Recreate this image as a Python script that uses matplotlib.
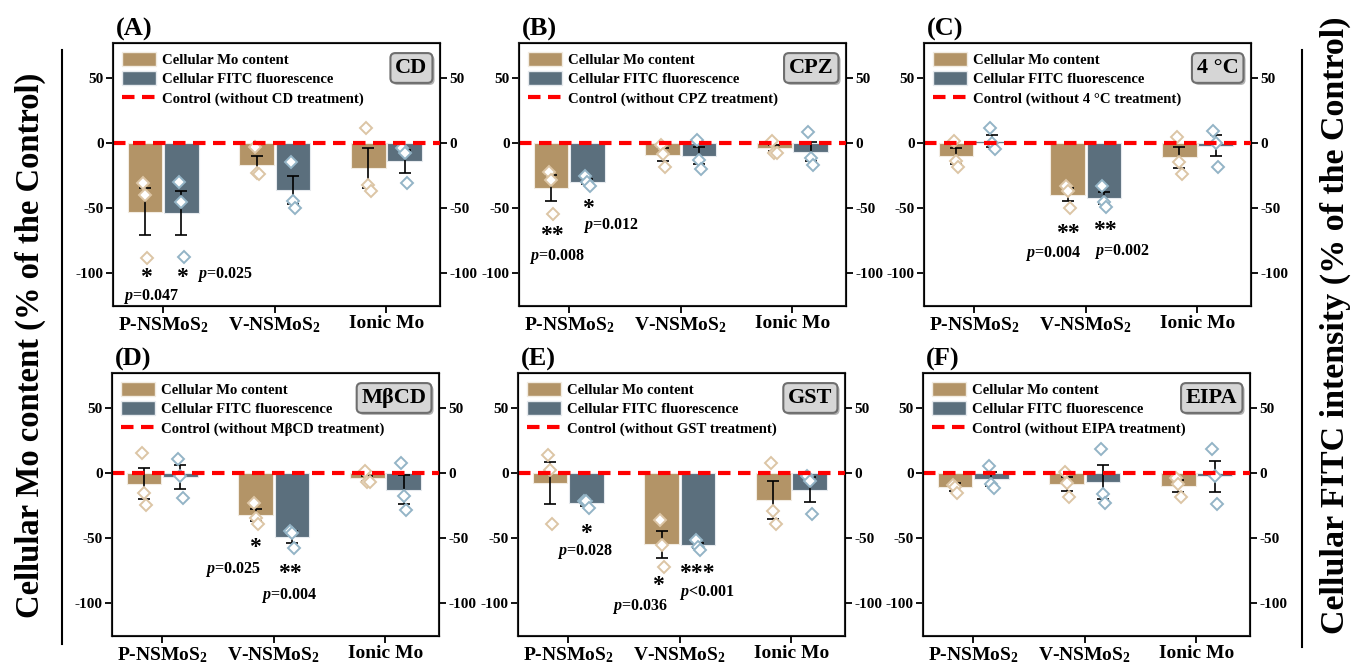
import numpy as np
import matplotlib
matplotlib.use("Agg")
import matplotlib.pyplot as plt
from matplotlib.lines import Line2D
from matplotlib.patches import Patch
import matplotlib.patheffects as pe

plt.rcParams['font.family'] = ['Liberation Serif', 'DejaVu Serif']
plt.rcParams['font.weight'] = 'bold'
plt.rcParams['mathtext.fontset'] = 'custom'
plt.rcParams['mathtext.rm'] = 'Liberation Serif:bold'
plt.rcParams['mathtext.bf'] = 'Liberation Serif:bold'
plt.rcParams['mathtext.it'] = 'Liberation Serif:italic:bold'

# ---- data (% of control) ----
categories = [r'P-NSMoS$_2$', r'V-NSMoS$_2$', 'Ionic Mo']
panel_tags = ['(A)', '(B)', '(C)', '(D)', '(E)', '(F)']
treatments = ['CD', 'CPZ', '4 °C', 'MβCD', 'GST', 'EIPA']

mo_mean = [[-52.5, -16.4, -19.0],
           [-34.6, -9.0, -3.8],
           [-9.7, -39.7, -10.8],
           [-8.0, -32.0, -4.0],
           [-7.6, -54.6, -20.3],
           [-10.7, -8.0, -10.0]]
mo_sd = [[18, 6.5, 15],
         [10, 5, 2.5],
         [6, 5, 8],
         [12, 4.5, 2],
         [16, 10.5, 14.5],
         [3, 5.5, 4.5]]
fitc_mean = [[-53.5, -36.0, -14.0],
             [-29.5, -9.7, -6.4],
             [2.0, -42.3, -2.0],
             [-3.0, -49.0, -12.5],
             [-22.8, -55.3, -12.7],
             [-4.3, -6.6, -2.3]]
fitc_sd = [[17, 11, 8.6],
           [2, 6.5, 7],
           [4.5, 4.5, 8],
           [9, 4.6, 11],
           [2, 2, 9.5],
           [5.5, 13, 12]]

mo_points = [[[-30.5, -40, -88], [-3, -23, -23.6], [11.5, -32, -37]],
             [[-22.3, -28, -54], [-1, -8.5, -18.5], [2, -7.7, -7.7]],
             [[2, -14, -18.5], [-32.5, -37, -50], [4.6, -14.6, -23.6]],
             [[15.5, -15.5, -24], [-23, -34, -39], [1.5, -7, -7]],
             [[14, 2.5, -39], [-36, -55.3, -72.3], [7.6, -29, -39.3]],
             [[-8.7, -10.5, -15], [1, -7.4, -18], [-3.6, -8, -18.4]]]
fitc_points = [[[-30, -45.4, -87], [-14.6, -44.6, -50], [-3.8, -7.7, -30.5]],
               [[-25, -30, -32.5], [2.6, -12.8, -19.7], [8.5, -11.5, -17]],
               [[11.5, 0, -4.6], [-32.5, -45.4, -48.7], [9.7, 0, -18.5]],
               [[11, -2, -19], [-44.4, -45.7, -57.7], [8, -17.6, -28.6]],
               [[-21, -21.5, -26.6], [-51.5, -57, -59], [-2, -5.8, -31]],
               [[5.4, -8, -11.7], [19, -15.6, -23.2], [18.6, -2.3, -23.7]]]

# significance marks: (x, y, text)
stars = [[(0.845, -103, '*'), (1.17, -103, '*')],
         [(0.845, -71, '**'), (1.17, -50, '*')],
         [(1.84, -69, '**'), (2.17, -67, '**')],
         [(1.83, -57, '*'), (2.145, -77, '**')],
         [(1.16, -46, '*'), (1.80, -86, '*'), (2.15, -77, '***')],
         []]
pvals = [[(0.89, -118, '$p$=0.047'), (1.55, -101, '$p$=0.025')],
         [(0.89, -87, '$p$=0.008'), (1.37, -63, '$p$=0.012')],
         [(1.71, -85, '$p$=0.004'), (2.32, -83, '$p$=0.002')],
         [(1.63, -74, '$p$=0.025'), (2.14, -94, '$p$=0.004')],
         [(1.15, -60, '$p$=0.028'), (1.64, -102, '$p$=0.036'), (2.24, -91.5, '$p$<0.001')],
         []]

mo_color = '#B39467'
fitc_color = '#5B6F7D'
mo_light = '#DCC5A5'
fitc_light = '#93B4C6'

W, H = 1352, 664
fig = plt.figure(figsize=(W / 100, H / 100), dpi=100)

col_left = [113, 519, 924]
row_top = [43, 373]
ax_w, ax_h = 327, 263
x = np.arange(1, 4)
off = 0.162
bw = 0.31
jit = np.array([-0.02, 0.0, 0.02])

for i in range(6):
    r, c = divmod(i, 3)
    L = col_left[c] - (1 if r else 0)
    ax = fig.add_axes([L / W, (H - row_top[r] - ax_h) / H, ax_w / W, ax_h / H])
    ax.bar(x - off, mo_mean[i], bw, color=mo_color, edgecolor='#f2ece2', lw=0.8, zorder=2)
    ax.bar(x + off, fitc_mean[i], bw, color=fitc_color, edgecolor='#e6eaee', lw=0.8, zorder=2)
    ax.errorbar(x - off, mo_mean[i], yerr=mo_sd[i], fmt='none', ecolor='black',
                elinewidth=1.2, capsize=4.5, capthick=1.2, zorder=3)
    ax.errorbar(x + off, fitc_mean[i], yerr=fitc_sd[i], fmt='none', ecolor='black',
                elinewidth=1.2, capsize=4.5, capthick=1.2, zorder=3)
    for k in range(3):
        ax.plot(x[k] - off + jit, mo_points[i][k], 'D', ms=6.5, mfc='white',
                mec=mo_light, mew=1.4, ls='none', zorder=4)
        ax.plot(x[k] + off + jit, fitc_points[i][k], 'D', ms=6.5, mfc='white',
                mec=fitc_light, mew=1.4, ls='none', zorder=4)
    ax.axhline(0, color='red', lw=3, ls=(0, (3, 1.8)), zorder=5)

    ax.set_xlim(0.55, 3.48)
    ax.set_ylim(-125, 77)
    ax.set_xticks(x)
    ax.set_xticklabels(categories, fontsize=14, fontweight='bold')
    ax.set_yticks([50, 0, -50, -100])
    ax.set_yticklabels(['50', '0', '-50', '-100'], fontsize=11, fontweight='bold')
    ax.tick_params(direction='out', length=5, width=1.3, pad=1.5)
    for s in ax.spines.values():
        s.set_linewidth(1.5)
        s.set_color('#222222')
    ax2 = ax.twinx()
    ax2.set_ylim(ax.get_ylim())
    ax2.set_yticks([50, 0, -50, -100])
    ax2.set_yticklabels(['50', '0', '-50', '-100'], fontsize=11, fontweight='bold')
    ax2.tick_params(direction='out', length=5, width=1.3, pad=1.5)

    handles = [Patch(facecolor=mo_color, edgecolor='#f2ece2'),
               Patch(facecolor=fitc_color, edgecolor='#e6eaee'),
               Line2D([], [], color='red', lw=3, ls=(0, (3, 1.8)))]
    labels = ['Cellular Mo content', 'Cellular FITC fluorescence',
              'Control (without %s treatment)' % treatments[i]]
    ax.legend(handles, labels, loc='upper left', frameon=False,
              prop={'family': 'Liberation Serif', 'weight': 'bold', 'size': 10.6},
              handlelength=2.3, handleheight=1.1, handletextpad=0.4,
              labelspacing=0.3, borderaxespad=0.25, borderpad=0.35)

    t = ax.text(0.962, 0.905, treatments[i], transform=ax.transAxes, ha='right',
                va='center', fontsize=16, fontweight='bold', zorder=6,
                bbox=dict(boxstyle='round,pad=0.22', fc='#d6d6d6', ec='#6e6e6e', lw=1.5))
    t.get_bbox_patch().set_path_effects([pe.withSimplePatchShadow(offset=(1.5, -1.5),
                                                                  alpha=0.4)])
    ax.text(0.01, 1.008, panel_tags[i], transform=ax.transAxes, ha='left',
            va='bottom', fontsize=19, fontweight='bold')

    for sx, sy, s in stars[i]:
        ax.text(sx, sy, s, ha='center', va='center', fontsize=17, fontweight='bold')
    for px, py, s in pvals[i]:
        ax.text(px, py, s, ha='center', va='center', fontsize=11.5)

fig.add_artist(Line2D([62 / W, 62 / W], [(H - 50) / H, (H - 644) / H],
                      color='black', lw=1.5))
fig.add_artist(Line2D([1302 / W, 1302 / W], [(H - 50) / H, (H - 647) / H],
                      color='black', lw=1.5))
fig.text(30 / W, (H - 345) / H, 'Cellular Mo content (% of the Control)',
         rotation=90, ha='center', va='center', fontsize=23.5, fontweight='bold')
fig.text(1335 / W, (H - 325) / H, 'Cellular FITC intensity (% of the Control)',
         rotation=90, ha='center', va='center', fontsize=24.5, fontweight='bold')

fig.savefig('out.png', dpi=100)
